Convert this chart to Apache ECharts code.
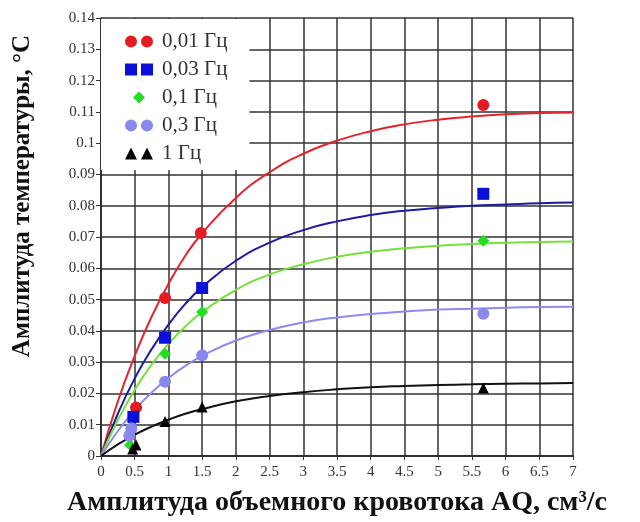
<!DOCTYPE html>
<html><head><meta charset="utf-8">
<script src="https://cdn.jsdelivr.net/npm/echarts@6/dist/echarts.min.js"></script>
<style>html,body{margin:0;padding:0;background:#fff}#c{width:640px;height:522px}</style>
</head><body><div id="c"></div>
<script>
var xTicks = [0,0.5,1,1.5,2,2.5,3,3.5,4,4.5,5,5.5,6,6.5,7];
var seriesNames = ['0,01 Гц','0,03 Гц','0,1 Гц','0,3 Гц','1 Гц'];
var curveX = [0,0.25,0.5,0.75,1,1.25,1.5,2,2.5,3,3.5,4,4.5,5,5.5,6,6.5,7];
var curveRed =    [0,0.0175,0.032,0.0445,0.055,0.064,0.0712,0.0825,0.0907,0.0966,0.1008,0.1038,0.1060,0.1075,0.1085,0.1092,0.1096,0.1098];
var curveBlue =   [0,0.0135,0.0248,0.0341,0.0420,0.0486,0.0540,0.0624,0.0682,0.0722,0.0750,0.0770,0.0784,0.0793,0.0800,0.0804,0.0808,0.0810];
var curveGreen =  [0,0.0115,0.0212,0.0292,0.0358,0.0414,0.0460,0.0531,0.0580,0.0613,0.0637,0.0653,0.0664,0.0672,0.0678,0.0682,0.0684,0.0686];
var curveLav =    [0,0.0080,0.0147,0.0203,0.0249,0.0288,0.0320,0.0369,0.0403,0.0427,0.0443,0.0454,0.0462,0.0468,0.0471,0.0474,0.0476,0.0477];
var curveBlack =  [0,0.0037,0.0068,0.0094,0.0116,0.0135,0.0150,0.0175,0.0192,0.0204,0.0213,0.0220,0.0224,0.0227,0.0229,0.0231,0.0232,0.0233];
var ptsRedX = [0.52,0.95,1.48,5.67];   var ptsRedY = [0.0155,0.0505,0.0713,0.1122];
var ptsBlueX = [0.48,0.95,1.5,5.67];   var ptsBlueY = [0.0125,0.0378,0.0537,0.0838];
var ptsGreenX = [0.43,0.95,1.5,5.67];  var ptsGreenY = [0.0035,0.0327,0.0460,0.0688];
var ptsLavX = [0.45,0.42,0.95,1.5,5.67]; var ptsLavY = [0.0088,0.0065,0.0237,0.0322,0.0455];
var ptsBlackX = [0.52,0.47,0.95,1.5,5.67]; var ptsBlackY = [0.0035,0.0022,0.0110,0.0157,0.0217];

function zip(xs, ys){ return xs.map(function(x,i){return [x, ys[i]];}); }
var lineColors = ['#e3242b','#1c1ca0','#77e03a','#8c8cf0','#111111'];
var markColors = ['#e31b23','#0a10d8','#22dd22','#8888ee','#000000'];
var curves = [curveRed, curveBlue, curveGreen, curveLav, curveBlack];
var ptsX = [ptsRedX, ptsBlueX, ptsGreenX, ptsLavX, ptsBlackX];
var ptsY = [ptsRedY, ptsBlueY, ptsGreenY, ptsLavY, ptsBlackY];
var marks = ['circle','rect','diamond','circle','triangle'];
var sizes = [12,12,12,12,11];
var legendIcons = [
 'path://M0,6a6,6 0 1,0 12,0a6,6 0 1,0 -12,0M16,6a6,6 0 1,0 12,0a6,6 0 1,0 -12,0',
 'path://M0,0h12v12h-12zM16,0h12v12h-12z',
 'path://M14,0L20,6L14,12L8,6z M0,6L0,6.01 M28,6L28,6.01',
 'path://M0,6a6,6 0 1,0 12,0a6,6 0 1,0 -12,0M16,6a6,6 0 1,0 12,0a6,6 0 1,0 -12,0',
 'path://M6,0L12,12H0zM22,0L28,12H16z'
];

var series = [];
for (var i=0;i<5;i++){
  series.push({type:'line', smooth:true, showSymbol:false, silent:true,
    data: zip(curveX, curves[i]), lineStyle:{color:lineColors[i], width:2}, z:2});
}
for (var i=0;i<5;i++){
  series.push({type:'scatter', name:seriesNames[i], symbol:marks[i], symbolSize:sizes[i],
    data: zip(ptsX[i], ptsY[i]), itemStyle:{color:markColors[i], opacity:1}, z:3});
}
var serif = '"Liberation Serif","DejaVu Serif",serif';
var chart = echarts.init(document.getElementById('c'));
chart.setOption({
  animation:false,
  backgroundColor:'#fff',
  grid:{left:101, right:67, top:18, bottom:65, containLabel:false},
  xAxis:{type:'value', min:0, max:7, interval:0.5,
    axisLine:{show:true, lineStyle:{color:'#222', width:1.5}},
    axisTick:{show:true, length:4, lineStyle:{color:'#333'}},
    axisLabel:{color:'#333', fontFamily:serif, fontSize:15, margin:9},
    splitLine:{show:true, lineStyle:{color:'#333', width:1.5}},
    name:'Амплитуда объемного кровотока AQ, см³/с', nameLocation:'middle', nameGap:33,
    nameTextStyle:{color:'#111', fontFamily:serif, fontSize:28, fontWeight:'bold'}
  },
  yAxis:{type:'value', min:0, max:0.14, interval:0.01,
    axisLine:{show:true, lineStyle:{color:'#222', width:1.5}},
    axisTick:{show:true, length:5, lineStyle:{color:'#333'}},
    axisLabel:{color:'#333', fontFamily:serif, fontSize:15, margin:6},
    splitLine:{show:true, lineStyle:{color:'#333', width:1.5}},
    name:'Амплитуда температуры, °C', nameLocation:'middle', nameGap:66, nameRotate:90,
    nameTextStyle:{color:'#111', fontFamily:serif, fontSize:25, fontWeight:'bold', padding:[0,0,0,82]}
  },
  legend:{orient:'vertical', left:101, top:19, backgroundColor:'#fff',
    padding:[12,22,6,24], itemGap:7, itemWidth:28, itemHeight:12,
    textStyle:{fontFamily:serif, fontSize:21, color:'#333', padding:[0,0,0,4]},
    data: seriesNames.map(function(n,i){return {name:n, icon:legendIcons[i]};})
  },
  series: series
});
</script></body></html>
